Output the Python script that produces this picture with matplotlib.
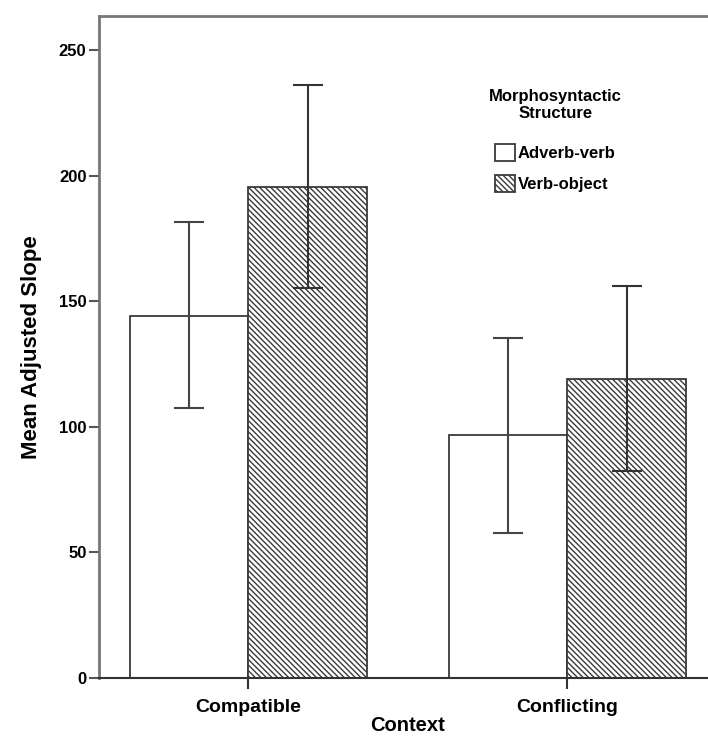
import numpy as np
import matplotlib.pyplot as plt
from matplotlib.patches import Patch

plt.rcParams['font.family'] = ['Liberation Sans', 'DejaVu Sans']
plt.rcParams['font.weight'] = 'bold'
plt.rcParams['hatch.linewidth'] = 1.0
plt.rcParams['hatch.color'] = '#333333'

contexts = ['Compatible', 'Conflicting']
structures = ['Adverb-verb', 'Verb-object']

# mean adjusted slope, with lower / upper ends of error bars
adverb_mean = [144.2, 96.7]
adverb_low = [107.3, 57.9]
adverb_high = [181.5, 135.2]
verb_mean = [195.3, 119.0]
verb_low = [155.3, 82.4]
verb_high = [236.1, 156.0]

HATCH = '\\' * 6

fig = plt.figure(figsize=(7.08, 7.38), dpi=100)
# right spine sits just past the picture edge, like the original
ax = fig.add_axes([99 / 708, 60 / 738, 617.6 / 708, 662 / 738])

x = np.arange(len(contexts))
w = 0.3715
edge = '#3a3a3a'

ax.bar(x - w / 2, adverb_mean, w, color='white', edgecolor=edge, linewidth=1.3, zorder=2)
ax.bar(x + w / 2, verb_mean, w, color='white', edgecolor=edge, linewidth=1.3,
       hatch=HATCH, zorder=2)

err_a = [np.array(adverb_mean) - adverb_low, np.array(adverb_high) - adverb_mean]
err_v = [np.array(verb_mean) - verb_low, np.array(verb_high) - verb_mean]
ax.errorbar(x - w / 2, adverb_mean, yerr=err_a, fmt='none', ecolor='#444444',
            elinewidth=1.5, capsize=11, capthick=1.5, zorder=3)
ax.errorbar(x + w / 2, verb_mean, yerr=err_v, fmt='none', ecolor='#333333',
            elinewidth=1.5, capsize=11, capthick=1.5, zorder=3)

ax.set_xlim(-0.468, 1.468)
ax.set_ylim(0, 263.5)
ax.set_yticks([0, 50, 100, 150, 200, 250])
ax.set_xticks(x)
ax.set_xticklabels(contexts)

for s in ['left', 'top', 'right']:
    ax.spines[s].set_color('#777777')
    ax.spines[s].set_linewidth(2)
ax.spines['bottom'].set_color('#333333')
ax.spines['bottom'].set_linewidth(1.5)

ax.tick_params(axis='y', direction='out', length=7, width=1.5, color='#555555',
               labelsize=12, pad=2)
ax.tick_params(axis='x', direction='out', length=8, width=1.5, color='#333333',
               labelsize=14, pad=7)

ax.set_ylabel('Mean Adjusted Slope', fontsize=16, fontweight='bold', labelpad=12)
ax.set_xlabel('Context', fontsize=14.5, fontweight='bold', labelpad=0)

handles = [Patch(facecolor='white', edgecolor=edge, linewidth=1.3, label=structures[0]),
           Patch(facecolor='white', edgecolor=edge, linewidth=1.3, hatch=HATCH,
                 label=structures[1])]
leg = ax.legend(handles=handles, title='Morphosyntactic\nStructure', loc='upper left',
                bbox_to_anchor=(474 / 708, 1 - 74 / 738),
                bbox_transform=fig.transFigure, frameon=False, fontsize=12,
                title_fontsize=12, handlelength=1.2, handleheight=1.2,
                handletextpad=0.15, labelspacing=0.85)
leg.get_title().set_fontweight('bold')
leg.get_title().set_multialignment('center')
leg._legend_box.sep = 16

fig.savefig('out.png', dpi=100)
